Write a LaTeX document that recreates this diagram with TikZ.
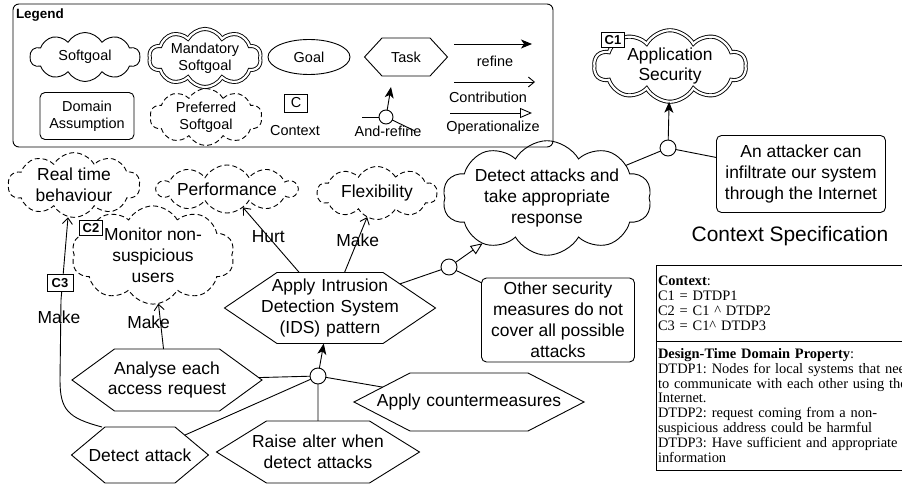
\documentclass[tikz,border=0pt]{standalone}
\usepackage{fontspec}
\setmainfont{Liberation Sans}
\newfontfamily\specfont{Liberation Serif}
\usepackage{tikz}
\usetikzlibrary{shapes.symbols,shapes.geometric,arrows.meta}

\newcommand{\bigtxt}{\fontsize{17.5}{21}\selectfont}
\newcommand{\legtxt}{\fontsize{14.5}{17}\selectfont}

\begin{document}
\begin{tikzpicture}[x=1bp,y=-1bp,line width=0.9bp,
    every node/.style={inner sep=0pt,outer sep=0pt},
    soft/.style={cloud,draw,cloud puffs=10,cloud puff arc=120,cloud ignores aspect,align=center},
    prefsoft/.style={soft,dash pattern=on 5bp off 3bp},
    mandsoft/.style={soft,double,double distance=2.2bp},
    task/.style={signal,draw,signal to=east and west,align=center},
    assumbox/.style={draw,rounded corners=5bp,align=center},
    ctx/.style={draw,fill=white,font=\bfseries\fontsize{13}{13}\selectfont,minimum height=15bp,minimum width=23bp},
    andnode/.style={circle,draw,fill=white,minimum size=16bp},
    refine/.style={-{Stealth[length=11bp,width=9bp,inset=3bp]}},
    contrib/.style={-{Straight Barb[length=6bp,width=10bp]}},
    oper/.style={-{Triangle[open,length=12bp,width=10bp]}}]
    \useasboundingbox (0,0) rectangle (902,485);
    \clip (0,0) rectangle (902,485);

    % legend
    \draw [rounded corners=6bp] (13,4) rectangle (553,147);
    \node [anchor=west,font=\bfseries\fontsize{13.5}{14}\selectfont] (legtitle) at (16,15) {Legend};
    \node [soft,minimum width=110bp,minimum height=49bp,font=\legtxt] (lgsoft) at (85,57) {Softgoal};
    \node [mandsoft,minimum width=112bp,minimum height=52bp,font=\legtxt] (lgmand) at (205,58) {Mandatory\\Softgoal};
    \node [ellipse,draw,minimum width=82bp,minimum height=35bp,font=\legtxt] (lggoal) at (309,57) {Goal};
    \node [task,signal pointer angle=94.7,text width=33bp,inner xsep=7.5bp,minimum height=38bp,font=\legtxt] (lgtask) at (406,57) {Task};
    \node [assumbox,minimum width=94bp,minimum height=47bp,font=\legtxt] (lgdom) at (87,116) {Domain\\Assumption};
    \node [prefsoft,minimum width=112bp,minimum height=57bp,font=\legtxt] (lgpref) at (206,117) {Preferred\\Softgoal};
    \node [ctx,font=\legtxt,minimum height=18bp] (lgctx) at (296,103) {C};
    \node [font=\legtxt] (lgctxlbl) at (295,131) {Context};
    \node [andnode,minimum size=14bp] (lgand) at (386,117) {};
    \coordinate (lgandup) at (391,87);
    \coordinate (lgandl) at (362,117);
    \coordinate (lgandr) at (415,131);
    \draw [refine] (lgand) -- (lgandup);
    \draw (lgand) -- (lgandl);
    \draw (lgand) -- (lgandr);
    \node [font=\legtxt] (lgandlbl) at (388,131) {And-refine};
    \coordinate (rfa) at (454,44);
    \coordinate (rfb) at (532,44);
    \draw [refine] (rfa) -- (rfb);
    \node [font=\legtxt] (lgrefine) at (495,61) {refine};
    \coordinate (cta) at (454,82);
    \coordinate (ctb) at (535,82);
    \draw [contrib] (cta) -- (ctb);
    \node [font=\legtxt] (lgcontrib) at (488,97) {Contribution};
    \coordinate (opa) at (450,113);
    \coordinate (opb) at (532,113);
    \draw [oper] (opa) -- (opb);
    \node [font=\legtxt] (lgoper) at (493,128) {Operationalize};

    % goal model
    \node [mandsoft,minimum width=152bp,minimum height=65bp,font=\bigtxt] (appsec) at (670,66) {Application\\Security};
    \node [andnode] (and1) at (668,148) {};
    \node [assumbox,minimum width=169bp,minimum height=77bp,font=\bigtxt] (attacker) at (801,174) {An attacker can\\infiltrate our system\\through the Internet};
    \node [soft,minimum width=201bp,minimum height=82bp,font=\bigtxt] (detresp) at (547,198) {Detect attacks and\\take appropriate\\response};
    \node [andnode] (and2) at (449,267) {};
    \node [assumbox,minimum width=153bp,minimum height=84bp,font=\bigtxt] (other) at (558,320) {Other security\\measures do not\\cover all possible\\attacks};
    \node [task,signal pointer angle=68.1,text width=145bp,inner xsep=-19.5bp,minimum height=71bp,font=\bigtxt] (ids) at (330,308) {Apply Intrusion\\Detection System\\(IDS) pattern};
    \node [prefsoft,minimum width=140bp,minimum height=48bp,font=\bigtxt] (perf) at (227,189) {Performance};
    \node [prefsoft,minimum width=120bp,minimum height=53bp,font=\bigtxt] (flex) at (377,193) {Flexibility};
    \node [prefsoft,minimum width=132bp,minimum height=54bp,font=\bigtxt] (realtime) at (74,185) {Real time\\behaviour};
    \node [prefsoft,minimum width=163bp,minimum height=80bp,font=\bigtxt] (monitor) at (153,255) {Monitor non-\\suspicious\\users};
    \node [task,signal pointer angle=72.2,text width=120bp,inner xsep=-7.5bp,minimum height=62bp,font=\bigtxt] (analyse) at (167,380) {Analyse each\\access request};
    \node [andnode] (and3) at (318,376) {};
    \node [task,signal pointer angle=79.8,text width=104bp,inner xsep=-17bp,minimum height=56bp,font=\bigtxt] (detatk) at (140,455) {Detect attack};
    \node [task,signal pointer angle=63.6,text width=132bp,inner xsep=-14.5bp,minimum height=62bp,font=\bigtxt] (raise) at (318,452) {Raise alter when\\detect attacks};
    \node [task,signal pointer angle=54.7,text width=186bp,inner xsep=-34bp,minimum height=58bp,font=\bigtxt] (counter) at (469,402) {Apply countermeasures};

    \draw [refine] (and1) -- (appsec);
    \draw (and1) -- (attacker);
    \draw (and1) -- (detresp);
    \draw [oper] (and2) -- (detresp);
    \draw (and2) -- (ids);
    \draw (and2) -- (other);
    \draw [contrib] (ids) -- node [pos=0.55,font=\bigtxt] (hurt) {Hurt} (perf);
    \draw [contrib] (ids) -- node [pos=0.58,font=\bigtxt] (mkflex) {Make} (flex);
    \draw [contrib] (analyse) -- node [pos=0.58,xshift=-12bp,font=\bigtxt] (mkmon) {Make} (monitor);
    \draw [refine] (and3) -- (ids);
    \draw (and3) -- (analyse);
    \draw (and3) -- (detatk);
    \draw (and3) -- (raise);
    \draw (and3) -- (counter);
    \draw [contrib] ([xshift=-3bp]detatk.north west) .. controls (68,418) and (60,410) .. (60,380) -- (61,300) -- ([xshift=-6bp]realtime.south);
    \node [font=\bigtxt] (mkrt) at (59,317) {Make};

    % context labels
    \node [ctx] (c1) at (613,40) {C1};
    \node [ctx] (c2) at (91,228) {C2};
    \node [ctx,minimum width=26bp,minimum height=17bp] (c3) at (60,283) {C3};

    % context specification
    \node [font=\fontsize{21}{24}\selectfont] (spectitle) at (790,236) {Context Specification};
    \node [draw,anchor=north west,text width=300bp,minimum height=76bp,align=left,inner xsep=2bp,
        font=\specfont\fontsize{14.5}{15}\selectfont\frenchspacing] (specctx) at (656,265)
        {\textbf{Context}:\\C1 = DTDP1\\C2 = C1 \textasciicircum\ DTDP2\\C3 = C1\textasciicircum\ DTDP3};
    \node [draw,anchor=north west,text width=300bp,minimum height=129bp,align=left,inner xsep=2bp,
        font=\specfont\fontsize{14.5}{15}\selectfont\frenchspacing] (specdtdp) at (656,341)
        {\textbf{Design-Time Domain Property}:\\DTDP1: Nodes for local systems that need\\to communicate with each other using the\\Internet.\\DTDP2: request coming from a non-\\suspicious address could be harmful\\DTDP3: Have sufficient and appropriate\\information};
\end{tikzpicture}
\end{document}
